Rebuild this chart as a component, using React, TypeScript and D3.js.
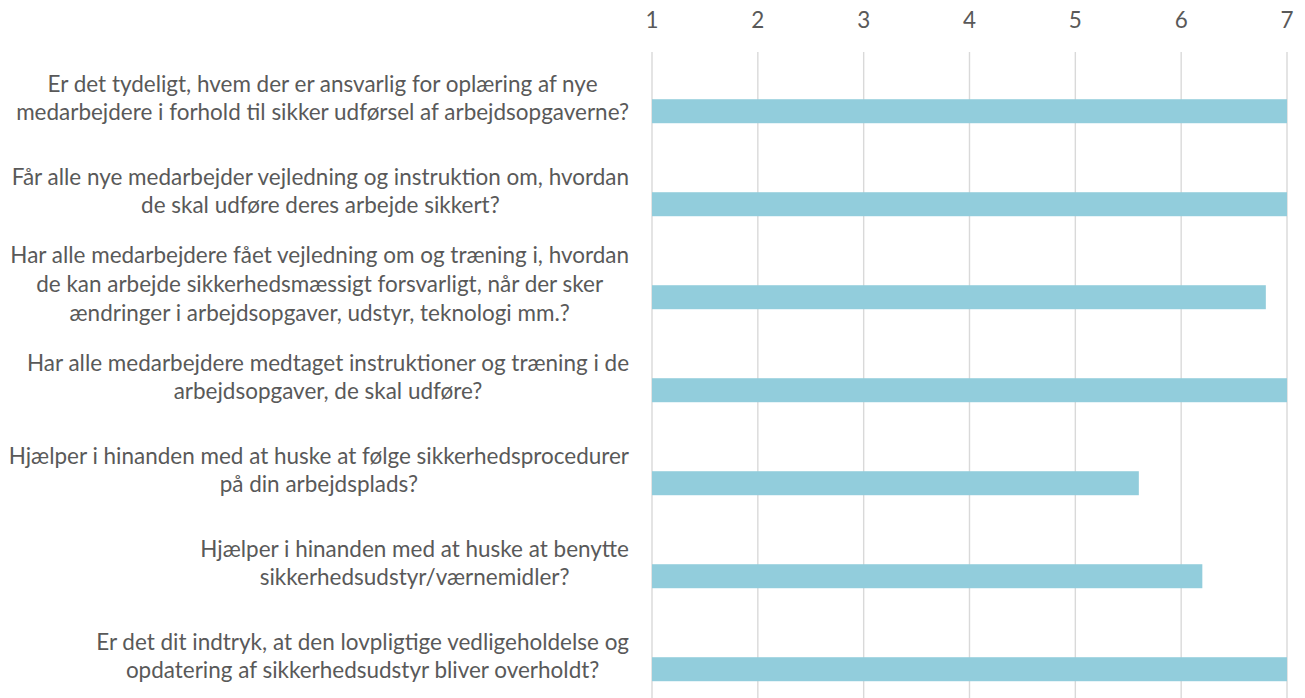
import React, { useLayoutEffect, useRef, useState } from "react";
import * as d3 from "d3";

const categories: string[][] = [
  ["Er det tydeligt, hvem der er ansvarlig for oplæring af nye", "medarbejdere i forhold til sikker udførsel af arbejdsopgaverne?"],
  ["Får alle nye medarbejder vejledning og instruktion om, hvordan", "de skal udføre deres arbejde sikkert?"],
  ["Har alle medarbejdere fået vejledning om og træning i, hvordan", "de kan arbejde sikkerhedsmæssigt forsvarligt, når der sker", "ændringer i arbejdsopgaver, udstyr, teknologi mm.?"],
  ["Har alle medarbejdere medtaget instruktioner og træning i de", "arbejdsopgaver, de skal udføre?"],
  ["Hjælper i hinanden med at huske at følge sikkerhedsprocedurer", "på din arbejdsplads?"],
  ["Hjælper i hinanden med at huske at benytte", "sikkerhedsudstyr/værnemidler?"],
  ["Er det dit indtryk, at den lovpligtige vedligeholdelse og", "opdatering af sikkerhedsudstyr bliver overholdt?"],
];
const values: number[] = [7, 7, 6.8, 7, 5.6, 6.2, 7];
const ticks: number[] = [1, 2, 3, 4, 5, 6, 7];

const W = 1305;
const H = 698;
const FONT = "Lato, 'Open Sans', sans-serif";
const TEXT = "#595959";

export default function App() {
  const x = d3.scaleLinear().domain([1, 7]).range([652, 1287]);
  const y = d3
    .scaleBand<number>()
    .domain(d3.range(categories.length))
    .range([53, 704])
    .paddingInner(0)
    .paddingOuter(0);
  const bw = y.bandwidth();
  const barOff = bw * 0.497;
  const barH = bw * 0.258;
  const lh = 28.6;

  const measRef = useRef<SVGTextElement>(null);
  const [fs, setFs] = useState(20);
  const [widths, setWidths] = useState<number[]>(categories.map(() => 600));

  useLayoutEffect(() => {
    const el = measRef.current;
    if (!el) return;
    el.setAttribute("font-size", "20");
    el.textContent = categories[0][1];
    const w0 = el.getComputedTextLength();
    const f = (20 * 613) / w0;
    el.setAttribute("font-size", String(f));
    const ws = categories.map((lines) =>
      Math.max(
        ...lines.map((l) => {
          el.textContent = l;
          return el.getComputedTextLength();
        })
      )
    );
    el.textContent = "";
    setFs(f);
    setWidths(ws);
  }, []);

  const right = 629;

  return (
    <svg width={W} height={H} style={{ position: "absolute", left: 0, top: 0 }} fontFamily={FONT}>
      <rect width={W} height={H} fill="#fff" />
      <text ref={measRef} fontFamily={FONT} opacity={0} x={0} y={-10} />
      {ticks.map((t) => (
        <g key={t}>
          <line x1={x(t)} x2={x(t)} y1={52} y2={H} stroke="#d9d9d9" strokeWidth={1.4} />
          <text x={x(t)} y={28} textAnchor="middle" fontSize={fs} fill={TEXT}>
            {t}
          </text>
        </g>
      ))}
      {values.map((v, i) => (
        <rect
          key={i}
          x={x(1)}
          y={(y(i) as number) + barOff}
          width={x(v) - x(1)}
          height={barH}
          fill="#92CDDC"
        />
      ))}
      {categories.map((lines, i) => {
        const c = (y(i) as number) + bw / 2;
        const cx = right - widths[i] / 2;
        return (
          <text key={i} textAnchor="middle" fontSize={fs} fill={TEXT}>
            {lines.map((l, j) => (
              <tspan key={j} x={cx} y={c + (j - (lines.length - 1) / 2) * lh + 6.5}>
                {l}
              </tspan>
            ))}
          </text>
        );
      })}
    </svg>
  );
}
